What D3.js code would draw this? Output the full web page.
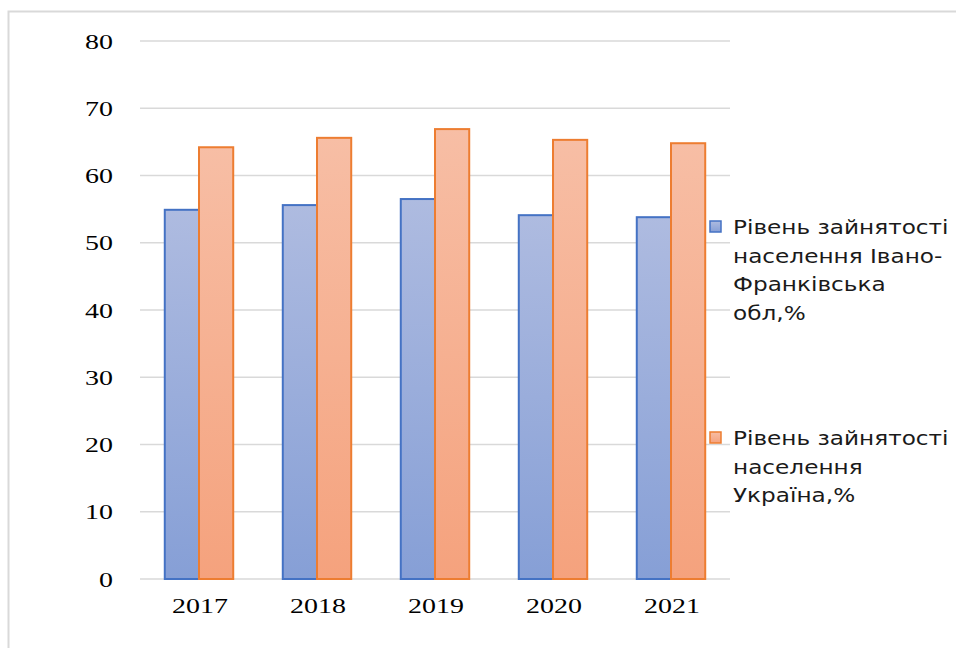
<!DOCTYPE html>
<html>
<head>
<meta charset="utf-8">
<script src="https://cdn.jsdelivr.net/npm/d3@7"></script>
<style>
  body { margin: 0; background: #fff; }
</style>
</head>
<body>
<div id="chart"></div>
<script>
var years = ["2017", "2018", "2019", "2020", "2021"];
var ivanoFrankivsk = [54.9, 55.6, 56.5, 54.1, 53.8];
var ukraine = [64.2, 65.6, 66.9, 65.3, 64.8];
var seriesNames = [
    ["Рівень зайнятості", "населення Івано-", "Франківська", "обл,%"],
    ["Рівень зайнятості", "населення", "Україна,%"]
];
var yTicks = [0, 10, 20, 30, 40, 50, 60, 70, 80];

var width = 956, height = 648;

var svg = d3.select("#chart")
    .append("svg")
    .attr("width", width)
    .attr("height", height);

var defs = svg.append("defs");
var blueGrad = defs.append("linearGradient")
    .attr("id", "gBlue").attr("x1", 0).attr("y1", 0).attr("x2", 0).attr("y2", 1);
blueGrad.append("stop").attr("offset", "0%").attr("stop-color", "#aebbe0");
blueGrad.append("stop").attr("offset", "100%").attr("stop-color", "#869fd6");
var orangeGrad = defs.append("linearGradient")
    .attr("id", "gOrange").attr("x1", 0).attr("y1", 0).attr("x2", 0).attr("y2", 1);
orangeGrad.append("stop").attr("offset", "0%").attr("stop-color", "#f7bea5");
orangeGrad.append("stop").attr("offset", "100%").attr("stop-color", "#f5a27d");

// outer frame (left and top edges visible)
svg.append("path")
    .attr("d", "M8.5," + height + "V11.5H" + width)
    .attr("fill", "none")
    .attr("stroke", "#d9d9d9")
    .attr("stroke-width", 2);

var x = d3.scaleBand()
    .domain(years)
    .range([140, 730])
    .paddingInner(0.42)
    .paddingOuter(0.21);

var y = d3.scaleLinear()
    .domain([0, 80])
    .range([579, 41]);

// gridlines
svg.append("g")
    .selectAll("line")
    .data(yTicks)
    .enter().append("line")
    .attr("x1", 140)
    .attr("x2", 730)
    .attr("y1", function(d) { return y(d); })
    .attr("y2", function(d) { return y(d); })
    .attr("stroke", "#d9d9d9")
    .attr("stroke-width", 1.3);

// the original picture is stretched sideways, so text is widened a bit
var serif = "'Liberation Serif', 'Times New Roman', serif";
var stretch = 1.27;

// y tick labels
svg.append("g")
    .selectAll("text")
    .data(yTicks)
    .enter().append("text")
    .attr("transform", function(d) { return "translate(113," + (y(d) + 7.5) + ") scale(" + stretch + ",1)"; })
    .attr("text-anchor", "end")
    .attr("font-family", serif)
    .attr("font-size", 22)
    .attr("fill", "#000")
    .text(function(d) { return d; });

var half = x.bandwidth() / 2;

svg.append("g")
    .selectAll("rect")
    .data(ivanoFrankivsk)
    .enter().append("rect")
    .attr("x", function(d, i) { return x(years[i]); })
    .attr("y", function(d) { return y(d); })
    .attr("width", half)
    .attr("height", function(d) { return y(0) - y(d); })
    .attr("fill", "url(#gBlue)")
    .attr("stroke", "#4472c4")
    .attr("stroke-width", 2);

svg.append("g")
    .selectAll("rect")
    .data(ukraine)
    .enter().append("rect")
    .attr("x", function(d, i) { return x(years[i]) + half; })
    .attr("y", function(d) { return y(d); })
    .attr("width", half)
    .attr("height", function(d) { return y(0) - y(d); })
    .attr("fill", "url(#gOrange)")
    .attr("stroke", "#ed7d31")
    .attr("stroke-width", 2);

// x labels
svg.append("g")
    .selectAll("text")
    .data(years)
    .enter().append("text")
    .attr("transform", function(d) {
        return "translate(" + (x(d) + x.bandwidth() / 2 + 1) + ",613) scale(" + stretch + ",1)";
    })
    .attr("text-anchor", "middle")
    .attr("font-family", serif)
    .attr("font-size", 22)
    .attr("fill", "#000")
    .text(function(d) { return d; });

// legend
var legendTop = [227, 438];
var legendFill = ["url(#gBlue)", "url(#gOrange)"];
var legendStroke = ["#4472c4", "#ed7d31"];

seriesNames.forEach(function(lines, k) {
    var g = svg.append("g");
    g.append("rect")
        .attr("x", 710)
        .attr("y", legendTop[k] - 6)
        .attr("width", 11)
        .attr("height", 11)
        .attr("fill", legendFill[k])
        .attr("stroke", legendStroke[k])
        .attr("stroke-width", 1.5);
    g.selectAll("text")
        .data(lines)
        .enter().append("text")
        .attr("transform", function(d, i) {
            return "translate(733," + (legendTop[k] + 7 + i * 28.5) + ") scale(1.22,1)";
        })
        .attr("font-family", "'DejaVu Sans', Verdana, sans-serif")
        .attr("font-size", 19)
        .attr("fill", "#1a1a1a")
        .text(function(d) { return d; });
});
</script>
</body>
</html>
